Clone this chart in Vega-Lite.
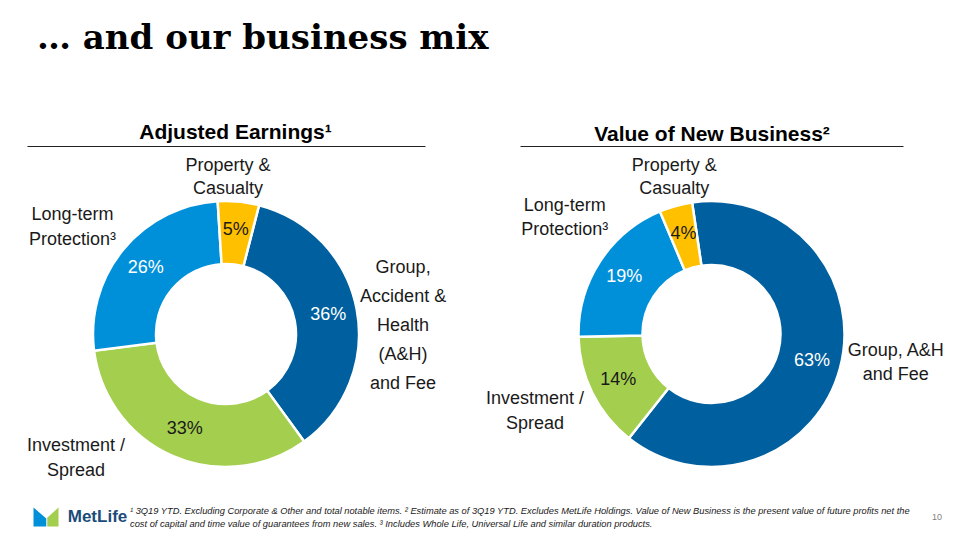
{
  "$schema": "https://vega.github.io/schema/vega-lite/v6.json",
  "background": "white",
  "padding": {"left": 27, "top": 22, "right": 10, "bottom": 5},
  "bounds": "flush",
  "title": {"text": "… and our business mix", "anchor": "start", "font": "DejaVu Serif", "fontWeight": "bold", "fontSize": 34, "color": "#000000", "offset": 65, "dx": 10},
  "config": {"view": {"stroke": null}, "font": "Liberation Sans"},
  "datasets": {
    "ae": [
      {"segment": "Group, A&H and Fee", "idx": 1, "share": 0.36, "label": "Group,\nAccident &\nHealth\n(A&H)\nand Fee"},
      {"segment": "Investment / Spread", "idx": 2, "share": 0.33, "label": "Investment /\nSpread"},
      {"segment": "Long-term Protection", "idx": 3, "share": 0.26, "label": "Long-term\nProtection³"},
      {"segment": "Property & Casualty", "idx": 4, "share": 0.05, "label": "Property &\nCasualty"}
    ],
    "vnb": [
      {"segment": "Group, A&H and Fee", "idx": 1, "share": 0.63, "label": "Group, A&H\nand Fee"},
      {"segment": "Investment / Spread", "idx": 2, "share": 0.14, "label": "Investment /\nSpread"},
      {"segment": "Long-term Protection", "idx": 3, "share": 0.19, "label": "Long-term\nProtection³"},
      {"segment": "Property & Casualty", "idx": 4, "share": 0.04, "label": "Property &\nCasualty"}
    ],
    "notes": [
      {"part": "notes", "line": 1, "text": "¹ 3Q19 YTD. Excluding Corporate & Other and total notable items. ² Estimate as of 3Q19 YTD. Excludes MetLife Holdings. Value of New Business is the present value of future profits net the"},
      {"part": "notes", "line": 2, "text": "cost of capital and time value of guarantees from new sales. ³ Includes Whole Life, Universal Life and similar duration products."}
    ],
    "brand": [{"brand": "MetLife", "page": "10"}]
  },
  "spacing": 314,
  "vconcat": [
    {
      "bounds": "flush",
      "spacing": 95,
      "hconcat": [
        {
          "width": 398,
          "height": 288,
          "data": {"name": "ae"},
          "layer": [
            {
              "mark": {"type": "rule", "strokeOpacity": 0},
              "encoding": {
                "x": {"datum": 0, "type": "quantitative", "scale": {"domain": [0, 1]},
                  "axis": {"orient": "top", "offset": 44, "domain": true, "domainColor": "#222222", "domainWidth": 1.2, "ticks": false, "labels": false, "grid": false,
                    "title": "Adjusted Earnings¹", "titleX": 208, "titleFont": "Liberation Sans", "titleFontSize": 21, "titleFontWeight": "bold", "titleColor": "#000000", "titlePadding": 4}}
              }
            },
            {
              "mark": {"type": "arc", "innerRadius": 70, "outerRadius": 133, "stroke": "white", "strokeWidth": 2.5},
              "encoding": {
                "theta": {"field": "share", "type": "quantitative", "stack": true, "scale": {"range": [0.2513, 6.5345]}},
                "order": {"field": "idx", "type": "quantitative", "sort": "ascending"},
                "color": {"field": "segment", "type": "nominal", "legend": null,
                  "scale": {"domain": ["Group, A&H and Fee", "Investment / Spread", "Long-term Protection", "Property & Casualty"], "range": ["#005F9E", "#A4CE4E", "#0090DA", "#FFC000"]}}
              }
            },
            {
              "mark": {"type": "text", "radius": 104, "fontSize": 18, "font": "Liberation Sans"},
              "encoding": {
                "theta": {"field": "share", "type": "quantitative", "stack": true, "scale": {"range": [0.2513, 6.5345]}},
                "order": {"field": "idx", "type": "quantitative", "sort": "ascending"},
                "text": {"field": "share", "type": "quantitative", "format": ".0%"},
                "color": {"condition": {"test": "datum.idx == 1 || datum.idx == 3", "value": "#FFFFFF"}, "value": "#1A1A1A"}
              }
            },
            {
              "mark": {"type": "text", "radius": 168, "thetaOffset": -0.082, "fontSize": 18, "lineBreak": "\n", "lineHeight": 23, "color": "#1A1A1A"},
              "encoding": {
                "theta": {"field": "share", "type": "quantitative", "stack": true, "scale": {"range": [0.2513, 6.5345]}},
                "order": {"field": "idx", "type": "quantitative", "sort": "ascending"},
                "text": {"condition": {"test": "datum.idx == 4", "field": "label", "type": "nominal"}, "value": ""}
              }
            },
            {
              "mark": {"type": "text", "radius": 189, "thetaOffset": -0.168, "fontSize": 18, "lineBreak": "\n", "lineHeight": 29, "color": "#1A1A1A"},
              "encoding": {
                "theta": {"field": "share", "type": "quantitative", "stack": true, "scale": {"range": [0.2513, 6.5345]}},
                "order": {"field": "idx", "type": "quantitative", "sort": "ascending"},
                "text": {"condition": {"test": "datum.idx == 1", "field": "label", "type": "nominal"}, "value": ""}
              }
            },
            {
              "mark": {"type": "text", "radius": 187, "thetaOffset": 0.522, "fontSize": 18, "lineBreak": "\n", "lineHeight": 25, "color": "#1A1A1A"},
              "encoding": {
                "theta": {"field": "share", "type": "quantitative", "stack": true, "scale": {"range": [0.2513, 6.5345]}},
                "order": {"field": "idx", "type": "quantitative", "sort": "ascending"},
                "text": {"condition": {"test": "datum.idx == 2", "field": "label", "type": "nominal"}, "value": ""}
              }
            },
            {
              "mark": {"type": "text", "radius": 194, "thetaOffset": -0.033, "fontSize": 18, "lineBreak": "\n", "lineHeight": 25, "color": "#1A1A1A"},
              "encoding": {
                "theta": {"field": "share", "type": "quantitative", "stack": true, "scale": {"range": [0.2513, 6.5345]}},
                "order": {"field": "idx", "type": "quantitative", "sort": "ascending"},
                "text": {"condition": {"test": "datum.idx == 3", "field": "label", "type": "nominal"}, "value": ""}
              }
            }
          ]
        },
        {
          "width": 383,
          "height": 288,
          "data": {"name": "vnb"},
          "layer": [
            {
              "mark": {"type": "rule", "strokeOpacity": 0},
              "encoding": {
                "x": {"datum": 0, "type": "quantitative", "scale": {"domain": [0, 1]},
                  "axis": {"orient": "top", "offset": 44, "domain": true, "domainColor": "#222222", "domainWidth": 1.2, "ticks": false, "labels": false, "grid": false,
                    "title": "Value of New Business²", "titleFont": "Liberation Sans", "titleFontSize": 21, "titleFontWeight": "bold", "titleColor": "#000000", "titlePadding": 2}}
              }
            },
            {
              "mark": {"type": "arc", "innerRadius": 69, "outerRadius": 133, "stroke": "white", "strokeWidth": 2.5},
              "encoding": {
                "theta": {"field": "share", "type": "quantitative", "stack": true, "scale": {"range": [-0.1466, 6.1366]}},
                "order": {"field": "idx", "type": "quantitative", "sort": "ascending"},
                "color": {"field": "segment", "type": "nominal", "legend": null,
                  "scale": {"domain": ["Group, A&H and Fee", "Investment / Spread", "Long-term Protection", "Property & Casualty"], "range": ["#005F9E", "#A4CE4E", "#0090DA", "#FFC000"]}}
              }
            },
            {
              "mark": {"type": "text", "radius": 104, "fontSize": 18, "font": "Liberation Sans"},
              "encoding": {
                "theta": {"field": "share", "type": "quantitative", "stack": true, "scale": {"range": [-0.1466, 6.1366]}},
                "order": {"field": "idx", "type": "quantitative", "sort": "ascending"},
                "text": {"field": "share", "type": "quantitative", "format": ".0%"},
                "color": {"condition": {"test": "datum.idx == 1 || datum.idx == 3", "value": "#FFFFFF"}, "value": "#1A1A1A"}
              }
            },
            {
              "mark": {"type": "text", "radius": 172, "thetaOffset": 0.054, "fontSize": 18, "lineBreak": "\n", "lineHeight": 23, "color": "#1A1A1A"},
              "encoding": {
                "theta": {"field": "share", "type": "quantitative", "stack": true, "scale": {"range": [-0.1466, 6.1366]}},
                "order": {"field": "idx", "type": "quantitative", "sort": "ascending"},
                "text": {"condition": {"test": "datum.idx == 4", "field": "label", "type": "nominal"}, "value": ""}
              }
            },
            {
              "mark": {"type": "text", "radius": 185, "thetaOffset": -0.168, "fontSize": 18, "lineBreak": "\n", "lineHeight": 24, "color": "#1A1A1A"},
              "encoding": {
                "theta": {"field": "share", "type": "quantitative", "stack": true, "scale": {"range": [-0.1466, 6.1366]}},
                "order": {"field": "idx", "type": "quantitative", "sort": "ascending"},
                "text": {"condition": {"test": "datum.idx == 1", "field": "label", "type": "nominal"}, "value": ""}
              }
            },
            {
              "mark": {"type": "text", "radius": 188, "thetaOffset": 0.11, "fontSize": 18, "lineBreak": "\n", "lineHeight": 25, "color": "#1A1A1A"},
              "encoding": {
                "theta": {"field": "share", "type": "quantitative", "stack": true, "scale": {"range": [-0.1466, 6.1366]}},
                "order": {"field": "idx", "type": "quantitative", "sort": "ascending"},
                "text": {"condition": {"test": "datum.idx == 2", "field": "label", "type": "nominal"}, "value": ""}
              }
            },
            {
              "mark": {"type": "text", "radius": 195, "thetaOffset": 0.143, "fontSize": 18, "lineBreak": "\n", "lineHeight": 24, "color": "#1A1A1A"},
              "encoding": {
                "theta": {"field": "share", "type": "quantitative", "stack": true, "scale": {"range": [-0.1466, 6.1366]}},
                "order": {"field": "idx", "type": "quantitative", "sort": "ascending"},
                "text": {"condition": {"test": "datum.idx == 3", "field": "label", "type": "nominal"}, "value": ""}
              }
            }
          ]
        }
      ]
    },
    {
      "bounds": "flush",
      "spacing": 0,
      "hconcat": [
        {
          "width": 38,
          "height": 26,
          "data": {"name": "brand"},
          "layer": [
            {"mark": {"type": "point", "shape": "M -1 -0.76 L 0.02 0.12 L 0.02 0.76 L -1 0.76 Z", "filled": true, "size": 625, "color": "#0090DA", "opacity": 1}, "encoding": {}},
            {"mark": {"type": "point", "shape": "M 0.1 0.06 L 1 -0.76 L 1 0.76 L 0.1 0.76 Z", "filled": true, "size": 625, "color": "#A4CE4E", "opacity": 1}, "encoding": {}}
          ]
        },
        {
          "width": 65,
          "height": 26,
          "data": {"name": "brand"},
          "mark": {"type": "text", "fontSize": 17, "fontWeight": "bold", "font": "Liberation Sans", "color": "#1B4B7A"},
          "encoding": {"text": {"field": "brand", "type": "nominal"}}
        },
        {
          "width": 798,
          "height": 26,
          "data": {"name": "notes"},
          "mark": {"type": "text", "align": "left", "baseline": "middle", "fontSize": 9.3, "fontStyle": "italic", "font": "Liberation Sans", "color": "#1A1A1A"},
          "encoding": {
            "x": {"field": "part", "type": "nominal", "scale": {"type": "point", "padding": 0, "align": 0}, "axis": null},
            "y": {"field": "line", "type": "ordinal", "scale": {"type": "point", "padding": 0.5}, "axis": null},
            "text": {"field": "text", "type": "nominal"}
          }
        },
        {
          "width": 18,
          "height": 26,
          "data": {"name": "brand"},
          "mark": {"type": "text", "fontSize": 9, "color": "#808080", "baseline": "middle"},
          "encoding": {"text": {"field": "page", "type": "nominal"}}
        }
      ]
    }
  ]
}
